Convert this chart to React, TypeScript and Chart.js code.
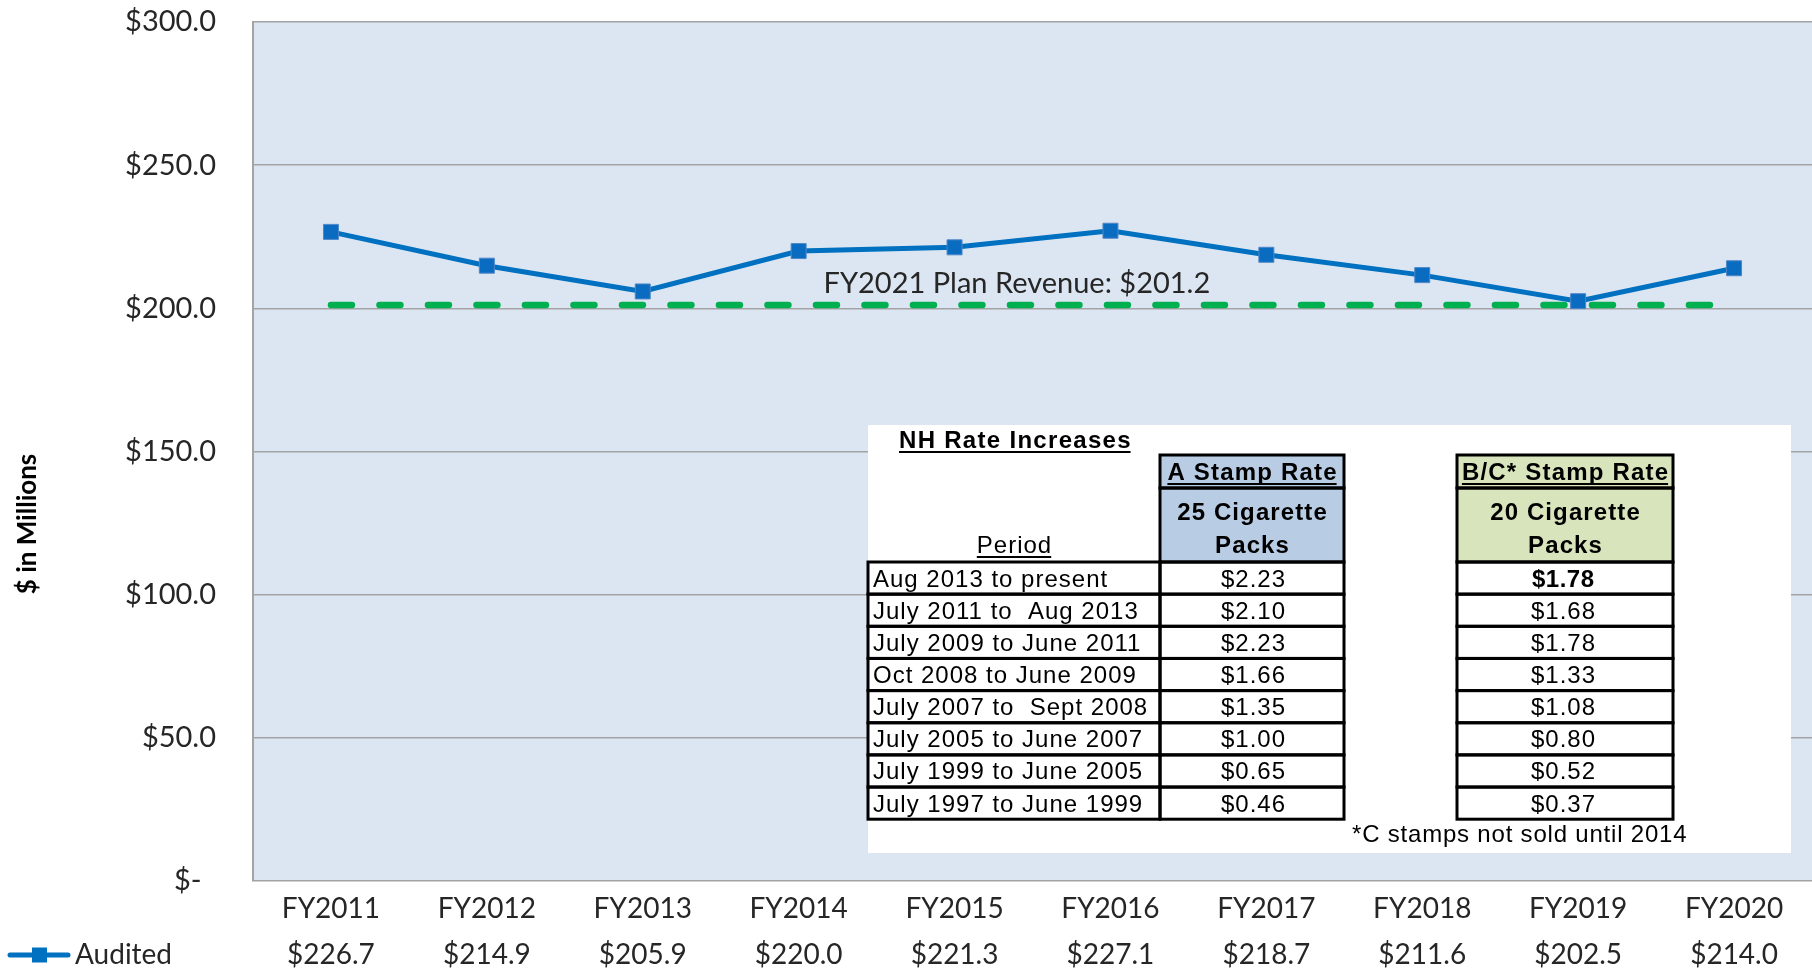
import React, { useEffect, useRef } from "react";
import { Chart, registerables } from "chart.js";

Chart.register(...registerables);

const categories = ["FY2011", "FY2012", "FY2013", "FY2014", "FY2015", "FY2016", "FY2017", "FY2018", "FY2019", "FY2020"];
const auditedValues = [226.7, 214.9, 205.9, 220.0, 221.3, 227.1, 218.7, 211.6, 202.5, 214.0];
const planValues = [201.2, 201.2, 201.2, 201.2, 201.2, 201.2, 201.2, 201.2, 201.2, 201.2];
const planLabel = "FY2021 Plan Revenue: $201.2";
const yTicks = [0, 50, 100, 150, 200, 250, 300];

const tableTitle = "NH Rate Increases";
const periodHeader = "Period";
const aHeader = ["A Stamp Rate", "25 Cigarette", "Packs"];
const bHeader = ["B/C* Stamp Rate", "20 Cigarette", "Packs"];
const periods = [
  "Aug 2013 to present",
  "July 2011 to  Aug 2013",
  "July 2009 to June 2011",
  "Oct 2008 to June 2009",
  "July 2007 to  Sept 2008",
  "July 2005 to June 2007",
  "July 1999 to June 2005",
  "July 1997 to June 1999",
];
const aRates = ["$2.23", "$2.10", "$2.23", "$1.66", "$1.35", "$1.00", "$0.65", "$0.46"];
const bRates = ["$1.78", "$1.68", "$1.78", "$1.33", "$1.08", "$0.80", "$0.52", "$0.37"];
const footnote = "*C stamps not sold until 2014";

const TEXT = "#262626";
const ARIAL = '"Liberation Sans", Arial, sans-serif';

function fmt(v: number) {
  return "$" + v.toFixed(1);
}

function txt(
  ctx: CanvasRenderingContext2D,
  s: string,
  x: number,
  y: number,
  font: string,
  align: CanvasTextAlign,
  spacing: number,
  underline = false
) {
  ctx.font = font;
  (ctx as any).letterSpacing = spacing + "px";
  ctx.textAlign = "left";
  ctx.textBaseline = "alphabetic";
  const w = ctx.measureText(s).width - spacing;
  let x0 = x;
  if (align === "center") x0 = x - w / 2;
  else if (align === "right") x0 = x - w;
  ctx.fillStyle = "#000";
  ctx.fillText(s, x0, y);
  if (underline) {
    ctx.strokeStyle = "#000";
    ctx.lineWidth = 2;
    ctx.beginPath();
    ctx.moveTo(x0, y + 4);
    ctx.lineTo(x0 + w, y + 4);
    ctx.stroke();
  }
  (ctx as any).letterSpacing = "0px";
}

function drawTable(ctx: CanvasRenderingContext2D) {
  ctx.save();
  ctx.fillStyle = "#ffffff";
  ctx.fillRect(868, 425, 923, 428);

  const bold = "bold 24px " + ARIAL;
  const reg = "24px " + ARIAL;

  txt(ctx, tableTitle, 899, 448, bold, "left", 1.3, true);
  txt(ctx, periodHeader, 1014, 553, reg, "center", 1, true);

  const rowTop = 562;
  const rowH = 32.15;
  const cols = [
    { x0: 868, x1: 1160 },
    { x0: 1160, x1: 1344 },
    { x0: 1457, x1: 1673 },
  ];

  ctx.fillStyle = "#B8CCE4";
  ctx.fillRect(1160, 455, 184, 107);
  ctx.fillStyle = "#D8E4BC";
  ctx.fillRect(1457, 455, 216, 107);

  const hdrs = [aHeader, bHeader];
  [cols[1], cols[2]].forEach((c, i) => {
    const cx = (c.x0 + c.x1) / 2;
    txt(ctx, hdrs[i][0], cx, 480, bold, "center", 1.2, true);
    txt(ctx, hdrs[i][1], cx, 520, bold, "center", 1.1);
    txt(ctx, hdrs[i][2], cx, 553, bold, "center", 1.1);
  });

  ctx.strokeStyle = "#000";
  ctx.lineWidth = 3;
  [cols[1], cols[2]].forEach((c) => {
    ctx.strokeRect(c.x0, 455, c.x1 - c.x0, 33);
    ctx.strokeRect(c.x0, 488, c.x1 - c.x0, 74);
  });

  for (let r = 0; r < periods.length; r++) {
    const y0 = rowTop + r * rowH;
    const base = y0 + rowH / 2 + 8.5;
    txt(ctx, periods[r], 873, base, reg, "left", 1);
    txt(ctx, aRates[r], 1253, base, reg, "center", 1);
    txt(ctx, bRates[r], 1563, base, r === 0 ? bold : reg, "center", r === 0 ? 0.5 : 1);
    ctx.strokeStyle = "#000";
    ctx.lineWidth = 3;
    cols.forEach((c) => ctx.strokeRect(c.x0, y0, c.x1 - c.x0, rowH));
  }

  txt(ctx, footnote, 1352, 842, reg, "left", 0.8);
  ctx.restore();
}

const chartDecor = {
  id: "chartDecor",
  beforeDraw(chart: any) {
    const { ctx, chartArea } = chart;
    ctx.save();
    ctx.fillStyle = "#DCE6F2";
    ctx.fillRect(chartArea.left, chartArea.top, chartArea.right - chartArea.left, chartArea.bottom - chartArea.top);
    ctx.restore();
  },
  afterDraw(chart: any) {
    const { ctx } = chart;
    const xs = chart.scales.x;
    const ys = chart.scales.y;
    ctx.save();
    ctx.font = "29px Lato";
    ctx.fillStyle = TEXT;
    ctx.textAlign = "center";
    ctx.textBaseline = "middle";
    ctx.fillText(planLabel, xs.getPixelForValue(4.4), ys.getPixelForValue(planValues[0]) - 21);

    ctx.save();
    ctx.translate(28, 524);
    ctx.rotate(-Math.PI / 2);
    ctx.font = "bold 26px Lato";
    ctx.fillStyle = "#000";
    ctx.textAlign = "center";
    ctx.textBaseline = "middle";
    ctx.fillText("$ in Millions", 0, 0);
    ctx.restore();

    const ly = 955;
    ctx.strokeStyle = "#0070C0";
    ctx.lineWidth = 5;
    ctx.lineCap = "round";
    ctx.beginPath();
    ctx.moveTo(10, ly);
    ctx.lineTo(68, ly);
    ctx.stroke();
    ctx.fillStyle = "#0070C0";
    ctx.fillRect(32, ly - 7.5, 15, 15);
    ctx.font = "28px Lato";
    ctx.fillStyle = TEXT;
    ctx.textAlign = "left";
    ctx.textBaseline = "middle";
    ctx.fillText("Audited", 75, ly);
    ctx.restore();

    drawTable(ctx);
  },
};

export default function App() {
  const ref = useRef<HTMLCanvasElement | null>(null);
  useEffect(() => {
    if (!ref.current) return;
    const chart = new Chart(ref.current, {
      type: "line",
      data: {
        labels: categories,
        datasets: [
          {
            label: "Audited",
            data: auditedValues,
            borderColor: "#0070C0",
            borderWidth: 5,
            pointStyle: "rect",
            pointRadius: 10.6,
            pointBackgroundColor: "#0A6CC0",
            pointBorderColor: "#4F86C6",
            pointBorderWidth: 1,
            tension: 0,
          },
          {
            label: "Plan",
            data: planValues,
            borderColor: "#00B050",
            borderWidth: 6.5,
            borderDash: [21, 27.5],
            borderCapStyle: "round",
            pointRadius: 0,
            tension: 0,
          },
        ],
      },
      options: {
        responsive: false,
        animation: false,
        devicePixelRatio: 1,
        layout: { autoPadding: false, padding: { top: 22, left: 0, right: 0, bottom: 0 } },
        plugins: { legend: { display: false }, tooltip: { enabled: false } },
        scales: {
          x: {
            offset: true,
            grid: { display: false, drawTicks: false },
            border: { display: false },
            ticks: {
              autoSkip: false,
              maxRotation: 0,
              minRotation: 0,
              padding: 5,
              color: TEXT,
              font: { family: "Lato", size: 28, lineHeight: 46 / 28 },
              callback: (_v: any, i: number) => [categories[i], fmt(auditedValues[i])],
            },
            afterFit: (s: any) => {
              s.height = 90;
              s.paddingLeft = 0;
              s.paddingRight = 0;
            },
          },
          y: {
            min: 0,
            max: 300,
            afterBuildTicks: (s: any) => {
              s.ticks = yTicks.map((v) => ({ value: v }));
            },
            grid: { color: "#A3A3A3", lineWidth: 1.5, drawTicks: false },
            border: { display: true, color: "#A3A3A3", width: 2 },
            ticks: {
              padding: 37,
              color: TEXT,
              font: { family: "Lato", size: 29 },
              callback: (v: any) => (Number(v) === 0 ? "$-\u2002" : fmt(Number(v))),
            },
            afterFit: (s: any) => {
              s.width = 253;
              s.paddingTop = 0;
              s.paddingBottom = 0;
              s.paddingLeft = 0;
              s.paddingRight = 0;
            },
          },
        },
      },
      plugins: [chartDecor],
    });
    return () => chart.destroy();
  }, []);
  return (
    <div style={{ position: "fixed", left: 0, top: 0, width: 1812, height: 971, background: "#fff" }}>
      <canvas ref={ref} width={1812} height={971} />
    </div>
  );
}
